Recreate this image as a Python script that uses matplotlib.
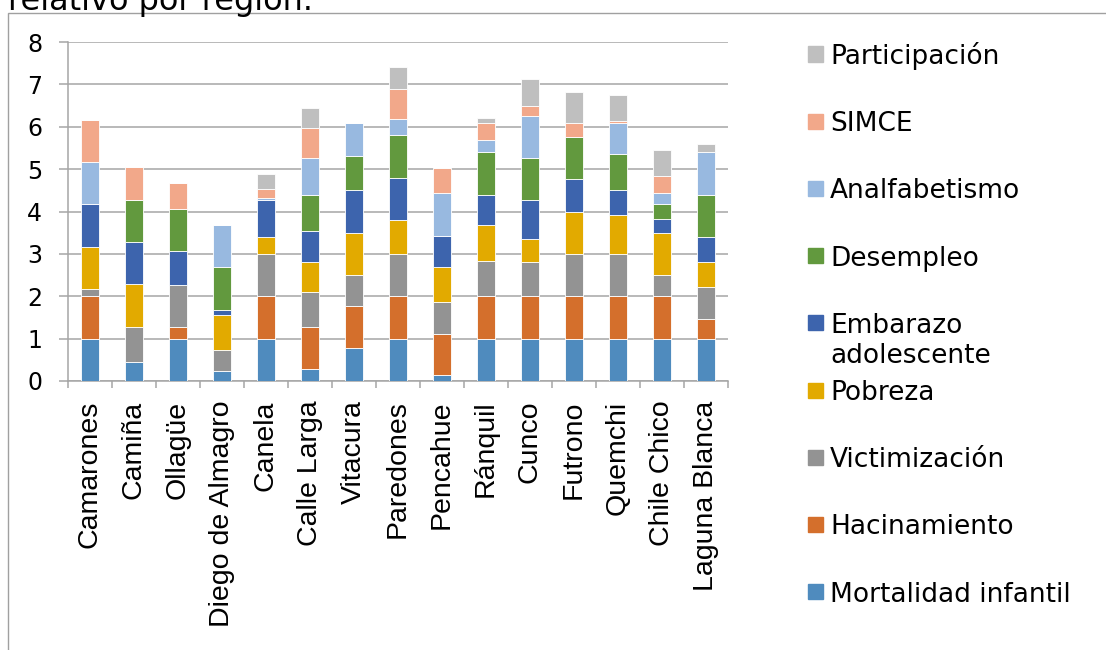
import numpy as np
import matplotlib.pyplot as plt
from matplotlib.patches import Rectangle

# comunas (eje x)
comunas = ['Camarones', 'Camiña', 'Ollagüe', 'Diego de Almagro', 'Canela',
           'Calle Larga', 'Vitacura', 'Paredones', 'Pencahue', 'Ránquil',
           'Cunco', 'Futrono', 'Quemchi', 'Chile Chico', 'Laguna Blanca']

# indicadores, de abajo hacia arriba en la pila
mortalidad = [1.0, 0.46, 1.0, 0.23, 1.0, 0.28, 0.77, 1.0, 0.13, 1.0, 1.0, 1.0, 1.0, 1.0, 1.0]
hacinamiento = [1.0, 0.0, 0.27, 0.0, 1.0, 1.0, 1.0, 1.0, 0.99, 1.0, 1.0, 1.0, 1.0, 1.0, 0.46]
victimizacion = [0.17, 0.82, 1.0, 0.5, 1.0, 0.83, 0.73, 1.0, 0.74, 0.83, 0.8, 1.0, 1.0, 0.5, 0.75]
pobreza = [1.0, 1.0, 0.0, 0.83, 0.39, 0.71, 1.0, 0.8, 0.83, 0.86, 0.56, 0.99, 0.91, 1.0, 0.59]
embarazo = [1.0, 1.0, 0.8, 0.12, 0.87, 0.71, 1.0, 1.0, 0.74, 0.71, 0.9, 0.77, 0.59, 0.33, 0.61]
desempleo = [0.0, 1.0, 0.98, 1.0, 0.0, 0.86, 0.82, 1.0, 0.0, 1.0, 1.0, 1.0, 0.86, 0.34, 0.99]
analfabetismo = [1.0, 0.0, 0.0, 1.0, 0.05, 0.88, 0.77, 0.38, 1.0, 0.29, 1.0, 0.0, 0.73, 0.26, 1.0]
simce = [1.0, 0.77, 0.62, 0.0, 0.22, 0.71, 0.0, 0.7, 0.59, 0.41, 0.23, 0.33, 0.05, 0.41, 0.0]
participacion = [0.0, 0.0, 0.0, 0.0, 0.35, 0.46, 0.0, 0.54, 0.0, 0.11, 0.63, 0.73, 0.62, 0.62, 0.2]

series = [mortalidad, hacinamiento, victimizacion, pobreza, embarazo,
          desempleo, analfabetismo, simce, participacion]
nombres = ['Mortalidad infantil', 'Hacinamiento', 'Victimización', 'Pobreza',
           'Embarazo\nadolescente', 'Desempleo', 'Analfabetismo', 'SIMCE',
           'Participación']
colores = ['#4F8BBE', '#D46F2C', '#939393', '#E2AA00', '#3D64AD',
           '#62993E', '#98B9E0', '#F2A88A', '#BFBFBF']

W, H = 1106, 650
fig = plt.figure(figsize=(W / 100, H / 100), dpi=100)
ax = fig.add_axes([68 / W, 1 - 381 / H, 660 / W, 339 / H])

x = np.arange(len(comunas))
base = np.zeros(len(comunas))
for vals, col in zip(series, colores):
    ax.bar(x, vals, 0.39, bottom=base, color=col, edgecolor='white',
           linewidth=0.6, zorder=3)
    base = base + np.array(vals)

gris = '#A6A6A6'
ax.set_xlim(-0.5, len(comunas) - 0.5)
ax.set_ylim(0, 8)
ax.set_yticks(range(0, 9))
ax.yaxis.grid(True, color=gris, linewidth=1.1, zorder=0)
ax.set_axisbelow(True)
for s in ['top', 'right']:
    ax.spines[s].set_visible(False)
for s in ['left', 'bottom']:
    ax.spines[s].set_color(gris)
    ax.spines[s].set_linewidth(1.1)

ax.tick_params(axis='y', length=6.5, width=1.1, color=gris, pad=12,
               labelsize=17, labelcolor='black')
ax.set_xticks(x)
ax.set_xticklabels(comunas, rotation=90, fontsize=20.5,
                   fontfamily='Liberation Sans', va='top')
ax.tick_params(axis='x', which='major', length=0, pad=14)
ax.set_xticks(np.arange(-0.5, len(comunas)), minor=True)
ax.tick_params(axis='x', which='minor', length=5, width=1.1, color=gris)

# leyenda a mano, como en el original (orden invertido)
paso = 67.2
for i, (nom, col) in enumerate(zip(nombres[::-1], colores[::-1])):
    yc = 54 + i * paso
    fig.add_artist(Rectangle((808 / W, 1 - (yc + 7.5) / H), 15 / W, 15 / H,
                             transform=fig.transFigure, color=col))
    for j, linea in enumerate(nom.split('\n')):
        fig.text(830 / W, 1 - (yc + 10 + j * 30) / H, linea, fontsize=19,
                 va='baseline', ha='left')

# marco y titulo cortado
fig.add_artist(Rectangle((8 / W, -0.1), 1.2, 1.1 - 13 / H, transform=fig.transFigure,
                         fill=False, edgecolor='#A0A0A0', linewidth=1.0))
fig.text(8 / W, 1 - 10 / H, 'relativo por región.', fontsize=23, va='baseline')

fig.savefig('out.png', dpi=100)
